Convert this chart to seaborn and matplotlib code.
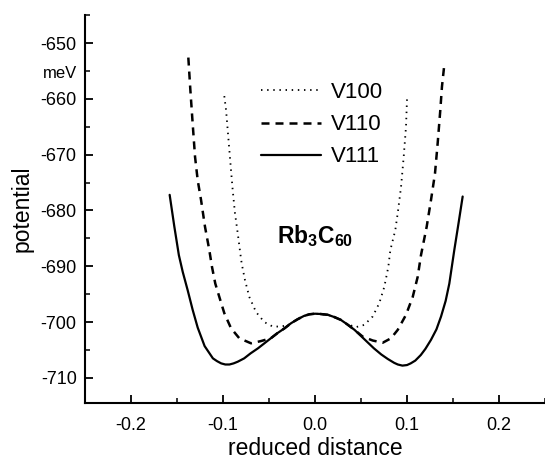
import matplotlib
matplotlib.use("Agg")
import matplotlib.pyplot as plt
import seaborn as sns
import numpy as np
from matplotlib.ticker import MultipleLocator

# ---- data ----
v100_x = [-0.0986, -0.0967, -0.0949, -0.0931, -0.0913, -0.0895, -0.087, -0.084, -0.0812,
          -0.0797, -0.0761, -0.0714, -0.0641, -0.0551, -0.046, -0.038, -0.030, -0.026,
          -0.019, -0.012, -0.006, 0.0, 0.006, 0.014, 0.021, 0.028, 0.035, 0.0446, 0.0536,
          0.0627, 0.0699, 0.0753, 0.0797, 0.0819, 0.0873, 0.0899, 0.0935, 0.0964, 0.0989, 0.100]
v100_y = [-659.5, -662.0, -665.6, -669.2, -672.8, -676.3, -680.5, -684.1, -687.7,
          -689.5, -692.5, -695.5, -698.2, -700.0, -700.8, -700.8, -700.6, -700.2,
          -699.5, -698.9, -698.6, -698.5, -698.55, -698.7, -699.1, -699.6, -700.4, -700.9, -700.5,
          -699.0, -696.6, -693.7, -690.1, -687.1, -683.5, -680.5, -675.8, -670.4, -665.0, -660.1]

v110_x = [-0.1377, -0.1355, -0.133, -0.1304, -0.1275, -0.1239, -0.1196, -0.1149, -0.112,
          -0.1084, -0.104, -0.0986, -0.0913, -0.0823, -0.0696, -0.0587, -0.048, -0.041,
          -0.033, -0.026, -0.019, -0.012, -0.006, 0.0, 0.006, 0.014, 0.021, 0.028, 0.035,
          0.043, 0.0518, 0.0627, 0.0736, 0.0826, 0.0899, 0.0989, 0.1062, 0.1116, 0.1152,
          0.1214, 0.1261, 0.1304, 0.1333, 0.1362, 0.138, 0.1406]
v110_y = [-652.6, -658.4, -664.4, -670.4, -674.6, -678.1, -682.9, -687.1, -690.1,
          -693.1, -695.5, -698.4, -701.1, -702.9, -703.8, -703.4, -702.9, -702.0,
          -701.1, -700.2, -699.5, -698.9, -698.6, -698.5, -698.55, -698.7, -699.1, -699.6, -700.4,
          -701.4, -702.6, -703.3, -703.7, -702.9, -701.4, -698.7, -695.5, -691.9, -688.0,
          -682.9, -678.1, -673.4, -668.0, -662.0, -657.8, -653.8]

v111_x = [-0.158, -0.153, -0.148, -0.1438, -0.1384, -0.133, -0.1275, -0.120, -0.111,
          -0.1065, -0.102, -0.0975, -0.093, -0.0885, -0.084, -0.077, -0.070, -0.062, -0.055,
          -0.048, -0.041, -0.033, -0.026, -0.019, -0.012, -0.006, 0.0, 0.006, 0.014, 0.021,
          0.028, 0.035, 0.043, 0.050, 0.057, 0.064, 0.072, 0.079, 0.086, 0.090, 0.095, 0.100,
          0.104, 0.109, 0.115, 0.120, 0.126, 0.132, 0.137, 0.142, 0.146, 0.1514, 0.156, 0.1605]
v111_y = [-677.2, -682.8, -688.0, -691.0, -694.3, -697.8, -701.0, -704.3, -706.5,
          -707.0, -707.4, -707.6, -707.6, -707.4, -707.1, -706.5, -705.6, -704.7, -703.8,
          -702.9, -702.0, -701.1, -700.2, -699.5, -698.9, -698.6, -698.5, -698.55, -698.7, -699.1,
          -699.6, -700.4, -701.4, -702.5, -703.6, -704.7, -705.8, -706.6, -707.3, -707.6, -707.8, -707.7,
          -707.4, -706.9, -705.9, -704.8, -703.2, -701.3, -699.0, -696.2, -693.1, -687.1, -682.3, -677.5]

labels = ["V100", "V110", "V111"]
x_ticks = [-0.2, -0.1, 0.0, 0.1, 0.2]
y_ticks = [-710, -700, -690, -680, -670, -660, -650]

sns.set_theme(style="ticks")
plt.rcParams['font.family'] = ['Liberation Sans', 'DejaVu Sans']
plt.rcParams['mathtext.fontset'] = 'custom'
plt.rcParams['mathtext.rm'] = 'Liberation Sans:bold'
plt.rcParams['mathtext.default'] = 'rm'
plt.rcParams['axes.unicode_minus'] = False
plt.rcParams['text.color'] = 'black'
plt.rcParams['axes.labelcolor'] = 'black'
plt.rcParams['xtick.color'] = 'black'
plt.rcParams['ytick.color'] = 'black'

fig = plt.figure(figsize=(5.45, 4.59), dpi=100)
ax = fig.add_axes([0.156, 0.122, 0.844, 0.845])

sns.lineplot(x=v100_x, y=v100_y, color='black', lw=1.3, label=labels[0], ax=ax)
ax.lines[-1].set_dashes([0.8, 2.6])
sns.lineplot(x=v110_x, y=v110_y, color='black', lw=1.8, label=labels[1], ax=ax)
ax.lines[-1].set_dashes([3.2, 2.4])
sns.lineplot(x=v111_x, y=v111_y, color='black', lw=1.6, label=labels[2], ax=ax)

ax.set_xlim(-0.25, 0.25)
ax.set_ylim(-714.5, -645)
ax.set_xticks(x_ticks)
ax.set_xticklabels([f"{v:.1f}" for v in x_ticks])
ax.set_yticks(y_ticks)
ax.xaxis.set_minor_locator(MultipleLocator(0.05))
ax.yaxis.set_minor_locator(MultipleLocator(5))

sns.despine(ax=ax)
for s in ['left', 'bottom']:
    ax.spines[s].set_linewidth(1.5)
    ax.spines[s].set_color('black')
ax.tick_params(which='major', direction='in', length=6, width=1.3, colors='black',
               labelsize=13, pad=6)
ax.tick_params(which='minor', direction='in', length=3.5, width=1.1, colors='black')
ax.tick_params(axis='x', which='major', pad=10)

ax.set_xlabel("reduced distance", fontsize=16.5, labelpad=2, color='black')
ax.set_ylabel("potential", fontsize=16.5, labelpad=5, color='black')

ax.text(-0.258, -655.5, "meV", fontsize=12, ha='right', va='center', color='black')
ax.text(0.0, -684.6, r"$\mathrm{Rb_3C_{60}}$", fontsize=16.5, ha='center', va='center',
        color='black')

leg = ax.legend(loc='upper left', bbox_to_anchor=(0.363, 0.85), frameon=False,
                fontsize=16, handlelength=2.7, handletextpad=0.45, labelspacing=0.5,
                borderaxespad=0)
for t in leg.get_texts():
    t.set_color('black')

fig.savefig("out.png", dpi=100)
